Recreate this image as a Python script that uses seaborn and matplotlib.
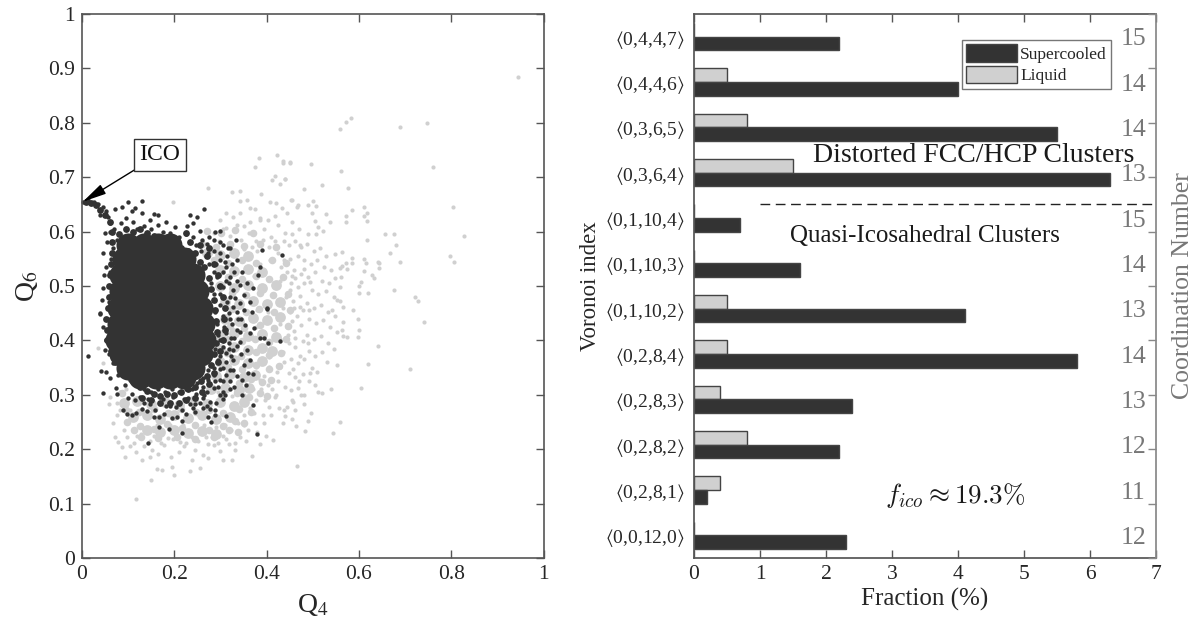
import numpy as np
import pandas as pd
import matplotlib
matplotlib.use("Agg")
import matplotlib.pyplot as plt
import seaborn as sns

# valeurs
voronoi = ["0,4,4,7", "0,4,4,6", "0,3,6,5", "0,3,6,4", "0,1,10,4", "0,1,10,3",
           "0,1,10,2", "0,2,8,4", "0,2,8,3", "0,2,8,2", "0,2,8,1", "0,0,12,0"]
liquid = [0, 0.5, 0.8, 1.5, 0, 0, 0.5, 0.5, 0.4, 0.8, 0.4, 0]
supercooled = [2.2, 4.0, 5.5, 6.3, 0.7, 1.6, 4.1, 5.8, 2.4, 2.2, 0.2, 2.3]
coordination = [15, 14, 14, 13, 15, 14, 13, 14, 13, 12, 11, 12]

# zone pleine du nuage sombre
dark_core = [
    (.10, .575), (.135, .575), (.165, .575), (.19, .575),
    (.09, .55), (.125, .55), (.16, .55), (.19, .55), (.22, .55),
    (.085, .52), (.12, .52), (.155, .52), (.19, .52), (.215, .52), (.24, .52),
    (.085, .49), (.12, .49), (.155, .49), (.19, .49), (.225, .49), (.25, .49),
    (.08, .46), (.115, .46), (.15, .46), (.19, .46), (.225, .46), (.258, .46),
    (.08, .43), (.115, .43), (.15, .43), (.19, .43), (.225, .43), (.263, .43),
    (.076, .40), (.11, .40), (.15, .40), (.19, .40), (.23, .40), (.265, .40),
    (.085, .375), (.12, .375), (.155, .375), (.19, .375), (.225, .375), (.258, .375),
    (.10, .35), (.135, .35), (.17, .35), (.205, .35), (.24, .35),
    (.125, .332), (.16, .332), (.19, .332), (.22, .332),
    (.155, .46), (.155, .43), (.16, .49), (.155, .40),
]

# bord du nuage sombre, encore presque plein
dark_rim = [
    (.065, .60), (.08, .595), (.095, .605), (.11, .60), (.125, .605), (.14, .598), (.155, .592), (.17, .59), (.185, .585),
    (.20, .575), (.215, .57), (.23, .565), (.245, .56), (.255, .545), (.265, .535), (.275, .515), (.28, .495), (.285, .475),
    (.288, .455), (.29, .435), (.292, .415), (.29, .395), (.287, .375), (.28, .355), (.27, .335), (.258, .325), (.245, .315),
    (.23, .31), (.215, .305), (.20, .30), (.185, .302), (.17, .298), (.155, .302), (.14, .307), (.125, .315), (.11, .325),
    (.098, .335), (.085, .345), (.072, .36), (.062, .38), (.055, .40), (.055, .42), (.053, .44), (.056, .46), (.058, .48),
    (.058, .50), (.06, .52), (.062, .54), (.064, .56), (.066, .58), (.008, .655), (.02, .652), (.03, .648), (.04, .64),
    (.05, .63), (.06, .618), (.27, .555), (.285, .54), (.295, .52), (.30, .50), (.305, .48), (.31, .46), (.308, .44),
    (.31, .42), (.305, .40), (.30, .38), (.295, .36), (.285, .34), (.275, .32), (.26, .305), (.245, .295), (.225, .29),
    (.21, .285), (.19, .285), (.17, .285), (.15, .29), (.13, .295), (.235, .58), (.255, .575), (.275, .57), (.225, .598),
]

# zone dense du nuage clair
light_core = [
    (.14, .235), (.17, .232), (.20, .236), (.23, .229), (.26, .233), (.29, .228),
    (.11, .26), (.14, .262), (.17, .256), (.20, .263), (.23, .258), (.26, .262), (.29, .255), (.32, .26),
    (.09, .285), (.12, .288), (.15, .283), (.18, .287), (.21, .282), (.24, .288), (.27, .284), (.30, .286), (.33, .28), (.35, .287),
    (.28, .31), (.31, .313), (.34, .308), (.362, .312),
    (.29, .335), (.32, .338), (.35, .332), (.375, .337),
    (.30, .36), (.33, .364), (.36, .358), (.39, .362),
    (.30, .385), (.33, .388), (.36, .382), (.39, .386), (.412, .38),
    (.30, .41), (.33, .413), (.36, .408), (.39, .412), (.42, .406),
    (.31, .44), (.34, .436), (.37, .442), (.40, .438), (.43, .443),
    (.31, .47), (.34, .467), (.37, .472), (.40, .466), (.43, .47),
    (.30, .50), (.33, .497), (.36, .502), (.39, .496), (.42, .501),
    (.30, .53), (.33, .527), (.36, .531), (.39, .525),
    (.27, .56), (.30, .557), (.33, .561), (.36, .555),
]

light_mid = [
    (.125, .242), (.156, .237), (.185, .246), (.216, .239), (.244, .244), (.276, .236), (.305, .243), (.331, .252), (.352, .248),
    (.096, .272), (.124, .268), (.157, .274), (.186, .267), (.214, .273), (.246, .269), (.276, .272), (.306, .267), (.34, .273), (.366, .268),
    (.086, .303), (.301, .298), (.336, .304), (.361, .296), (.385, .303), (.401, .298),
    (.311, .327), (.34, .322), (.366, .329), (.391, .323), (.41, .328),
    (.316, .352), (.346, .348), (.376, .354), (.406, .347), (.426, .353),
    (.314, .377), (.345, .372), (.376, .378), (.405, .373), (.431, .376),
    (.316, .402), (.346, .398), (.375, .403), (.406, .397), (.441, .402),
    (.321, .427), (.351, .423), (.386, .428), (.416, .422), (.446, .427),
    (.326, .457), (.356, .452), (.384, .458), (.416, .453), (.451, .456),
    (.324, .487), (.356, .483), (.386, .488), (.414, .483), (.446, .486),
    (.316, .517), (.346, .512), (.376, .518), (.406, .513), (.436, .516),
    (.286, .547), (.316, .543), (.346, .548), (.376, .542), (.411, .547), (.441, .543),
    (.261, .577), (.291, .572), (.321, .578), (.351, .573), (.386, .577), (.421, .572),
    (.271, .602), (.301, .597), (.331, .603), (.371, .598),
    (.112, .236), (.098, .25), (.318, .235), (.338, .232), (.128, .222), (.165, .22), (.205, .222), (.245, .218), (.285, .222),
]

light_points = [
    (.945, .884), (.583, .808), (.571, .801), (.559, .789), (.688, .792), (.748, .800), (.496, .724), (.760, .719),
    (.561, .712), (.451, .728), (.436, .727), (.519, .686), (.480, .679), (.577, .681), (.440, .696), (.804, .646),
    (.828, .591), (.797, .556), (.807, .544), (.611, .645), (.584, .640), (.617, .634), (.573, .628), (.611, .629),
    (.617, .620), (.571, .618), (.537, .618), (.528, .632), (.454, .658), (.501, .656), (.490, .649), (.508, .647),
    (.467, .649), (.499, .635), (.505, .620), (.512, .608), (.523, .601), (.490, .595), (.507, .595), (.656, .596),
    (.677, .596), (.618, .585), (.680, .575), (.667, .560), (.688, .545), (.564, .563), (.548, .559), (.586, .551),
    (.586, .542), (.573, .543), (.612, .549), (.615, .542), (.642, .545), (.644, .542), (.643, .534), (.610, .527),
    (.628, .520), (.633, .515), (.604, .508), (.601, .500), (.601, .488), (.619, .487), (.676, .492), (.722, .480),
    (.727, .472), (.740, .434), (.587, .455), (.597, .439), (.601, .420), (.597, .406), (.642, .389), (.620, .357),
    (.711, .347), (.604, .313), (.560, .250), (.543, .229), (.465, .169),
    (.563, .536), (.559, .534), (.575, .531), (.561, .517), (.560, .499), (.552, .474), (.558, .472), (.566, .461),
    (.541, .456), (.565, .433), (.563, .419), (.565, .408), (.575, .407), (.552, .354), (.540, .310), (.521, .304),
    (.511, .306), (.482, .283), (.496, .266), (.489, .252), (.484, .234), (.463, .243), (.456, .255), (.458, .287),
    (.461, .272), (.438, .272), (.440, .261), (.435, .249),
    (.384, .736), (.423, .741), (.375, .719), (.435, .730), (.451, .727), (.418, .703), (.440, .697), (.411, .695),
    (.429, .687), (.272, .681), (.324, .673), (.342, .675), (.388, .669), (.198, .655), (.357, .658), (.342, .656),
    (.407, .654), (.420, .653), (.453, .658), (.313, .634), (.299, .621), (.364, .643), (.375, .641), (.386, .621),
    (.433, .643), (.445, .634), (.465, .646), (.328, .627), (.342, .634),
    (.117, .109), (.149, .143), (.234, .160), (.199, .152), (.162, .163), (.173, .161), (.194, .168), (.368, .188),
    (.413, .216), (.093, .186), (.072, .223), (.079, .214), (.086, .204), (.129, .180), (.147, .186), (.256, .165),
    (.238, .180), (.274, .183), (.306, .180), (.324, .181), (.331, .198), (.068, .249), (.059, .284), (.061, .296),
    (.035, .386), (.046, .358), (.105, .205), (.118, .195), (.135, .205), (.152, .198), (.165, .192), (.178, .208),
    (.192, .186), (.21, .195), (.222, .205), (.245, .198), (.262, .19), (.285, .208), (.298, .196), (.318, .21),
    (.342, .222), (.36, .235), (.375, .248), (.392, .262), (.405, .278), (.418, .296), (.398, .225), (.09, .235),
    (.098, .222), (.075, .262), (.082, .272),
    (.345, .585), (.362, .598), (.378, .582), (.395, .605), (.41, .59), (.425, .612), (.44, .598), (.455, .618),
    (.47, .605), (.352, .61), (.32, .592), (.305, .605), (.285, .598), (.335, .612), (.385, .625), (.418, .628),
    (.448, .575), (.462, .582), (.475, .572), (.488, .578), (.502, .565), (.515, .57), (.528, .555), (.45, .55),
    (.468, .555), (.482, .548), (.497, .54), (.51, .548), (.525, .535), (.54, .53), (.445, .525), (.46, .53),
    (.475, .522), (.49, .516), (.505, .525), (.52, .51), (.535, .505), (.548, .515), (.452, .505), (.468, .498),
    (.482, .505), (.498, .492), (.512, .485), (.528, .49), (.545, .48), (.442, .48), (.458, .472), (.472, .482),
    (.487, .468), (.502, .46), (.518, .465), (.532, .452), (.548, .445), (.45, .452), (.465, .445), (.478, .455),
    (.492, .44), (.508, .432), (.522, .438), (.538, .425), (.552, .415), (.445, .425), (.46, .418), (.475, .428),
    (.488, .41), (.502, .402), (.518, .408), (.532, .395), (.545, .385), (.448, .395), (.462, .388), (.478, .398),
    (.492, .38), (.505, .372), (.52, .378), (.53, .36), (.452, .365), (.468, .358), (.482, .366), (.498, .35),
    (.51, .342), (.448, .34), (.462, .332), (.478, .338), (.492, .325), (.505, .318), (.44, .315), (.452, .308),
    (.468, .312), (.482, .30), (.425, .325), (.43, .352), (.435, .378), (.428, .402), (.42, .30), (.41, .325),
    (.395, .335), (.405, .352), (.282, .222), (.305, .225), (.322, .235), (.338, .248), (.352, .262), (.365, .275),
    (.378, .29), (.388, .31), (.12, .225), (.148, .215), (.172, .212), (.198, .218), (.225, .212), (.252, .215),
    (.272, .21), (.345, .55), (.38, .565), (.405, .572), (.425, .56), (.408, .548), (.432, .535),
    (.113, .212), (.128, .228), (.156, .224), (.186, .221), (.212, .214), (.238, .222), (.268, .222), (.295, .212),
    (.312, .218), (.332, .212), (.352, .245), (.372, .266), (.396, .29), (.411, .31), (.422, .342), (.438, .36),
    (.447, .41), (.456, .436), (.459, .46), (.451, .492), (.456, .518), (.438, .548), (.418, .582), (.392, .585),
    (.368, .572), (.352, .568), (.322, .575), (.296, .582), (.312, .607), (.365, .618), (.402, .622), (.437, .582),
    (.43, .51), (.436, .46), (.429, .43), (.415, .425), (.402, .452), (.415, .485), (.405, .512), (.385, .54),
    (.372, .518), (.345, .515), (.352, .485), (.38, .455), (.352, .455), (.378, .425), (.402, .395), (.405, .37),
    (.378, .352), (.345, .345), (.318, .352), (.345, .372), (.318, .325), (.295, .305), (.325, .298), (.352, .3),
    (.37, .31), (.402, .318), (.385, .328), (.29, .24), (.31, .245), (.265, .245), (.242, .245), (.218, .244),
    (.19, .245), (.162, .245), (.128, .245), (.1, .25), (.105, .272), (.13, .274), (.158, .272), (.075, .285),
    (.083, .305), (.095, .31), (.472, .575), (.455, .595), (.482, .532), (.462, .515), (.495, .508), (.472, .462),
    (.492, .455), (.462, .405), (.49, .395), (.472, .372), (.458, .348), (.47, .325), (.456, .29), (.445, .278),
    (.426, .275), (.41, .262), (.395, .248), (.38, .232), (.356, .215), (.385, .21), (.475, .3), (.495, .34),
]

dark_points = [
    (.003, .655), (.014, .658), (.025, .655), (.035, .651), (.046, .646), (.053, .638), (.039, .630), (.057, .627),
    (.072, .641), (.086, .646), (.099, .654), (.129, .656), (.115, .643), (.108, .637), (.129, .634), (.155, .633),
    (.165, .630), (.147, .621), (.183, .618), (.202, .609), (.234, .630), (.250, .627), (.264, .641), (.227, .611),
    (.240, .615), (.256, .602), (.299, .601), (.285, .584), (.299, .581), (.270, .578), (.248, .575), (.317, .569),
    (.334, .584), (.389, .566), (.433, .557), (.335, .548), (.346, .526), (.386, .535), (.382, .520), (.357, .505),
    (.342, .502), (.370, .496), (.328, .493), (.350, .483), (.364, .471), (.350, .456), (.400, .459), (.328, .462),
    (.299, .548), (.313, .535), (.292, .517), (.321, .517), (.306, .499), (.321, .480), (.046, .560), (.053, .535),
    (.046, .496), (.043, .474), (.039, .450), (.061, .615), (.050, .597),
    (.012, .372), (.041, .344), (.051, .342), (.046, .304), (.061, .330), (.074, .313), (.075, .302), (.088, .272),
    (.098, .264), (.109, .263), (.118, .266), (.129, .274), (.142, .212), (.167, .241), (.189, .237), (.216, .230),
    (.166, .260), (.194, .258), (.216, .252), (.279, .250), (.274, .260), (.288, .263), (.313, .261), (.277, .274),
    (.288, .272), (.245, .269), (.216, .272), (.183, .279), (.204, .278), (.158, .272), (.147, .284), (.234, .284),
    (.245, .283), (.277, .287), (.306, .292), (.346, .299), (.371, .282), (.380, .228), (.285, .312), (.299, .299),
    (.321, .310), (.335, .334), (.346, .327), (.355, .318), (.360, .340), (.370, .339), (.364, .364), (.350, .355),
    (.328, .345), (.313, .336), (.299, .327), (.328, .364), (.313, .361), (.299, .348), (.357, .382), (.342, .397),
    (.328, .382), (.313, .376), (.295, .364), (.386, .405), (.394, .405), (.404, .396), (.430, .399), (.373, .423),
    (.353, .428), (.364, .413), (.400, .458), (.368, .453), (.335, .453), (.321, .440), (.335, .419), (.313, .413),
    (.299, .400), (.306, .388), (.050, .382), (.053, .400), (.046, .425), (.039, .448), (.068, .358), (.079, .336),
    (.093, .318), (.108, .302), (.126, .296), (.144, .293), (.176, .293), (.198, .296), (.220, .293), (.248, .302),
    (.263, .315), (.274, .327), (.285, .336),
    (.06, .60), (.07, .605), (.085, .615), (.095, .625), (.11, .618), (.12, .605), (.135, .61), (.15, .605), (.165, .612),
    (.175, .60), (.19, .598), (.21, .59), (.225, .595), (.24, .59), (.26, .585), (.275, .59), (.258, .565), (.272, .56),
    (.285, .565), (.30, .56), (.29, .54), (.275, .54), (.305, .525), (.285, .525), (.296, .50), (.312, .51), (.28, .505),
    (.30, .485), (.285, .485), (.315, .47), (.30, .465), (.288, .452), (.305, .445), (.318, .45), (.292, .43), (.308, .425),
    (.295, .41), (.318, .395), (.33, .405), (.342, .415), (.288, .385), (.30, .372), (.322, .372), (.285, .35), (.272, .345),
    (.288, .325), (.262, .33), (.25, .322), (.238, .31), (.225, .31), (.21, .305), (.195, .31), (.18, .305), (.165, .31),
    (.15, .305), (.135, .31), (.118, .318), (.105, .328), (.095, .34), (.08, .35), (.07, .37), (.058, .375), (.058, .41),
    (.056, .44), (.058, .47), (.058, .50), (.06, .525), (.062, .55), (.068, .57), (.075, .585), (.048, .52), (.055, .58),
    (.17, .285), (.19, .28), (.23, .295), (.262, .295), (.135, .285), (.115, .29), (.1, .295), (.262, .275), (.255, .285),
    (.315, .555), (.325, .54), (.33, .525), (.318, .505), (.335, .51), (.332, .478), (.343, .468), (.338, .44), (.325, .43),
    (.345, .44), (.322, .405), (.335, .39), (.318, .385), (.345, .375), (.305, .35), (.32, .345), (.305, .325), (.32, .325),
    (.33, .315), (.295, .315), (.305, .305), (.27, .305), (.24, .275), (.225, .265), (.178, .265), (.155, .26), (.14, .27),
    (.205, .26), (.27, .28), (.29, .285), (.31, .30), (.265, .3), (.31, .545), (.32, .57), (.305, .575), (.288, .60),
]

LIGHT = "#d0d0d0"
DARK = "#333333"
AXIS = "#555555"

sns.set_theme(style="ticks")
plt.rcParams["font.family"] = ["Liberation Serif", "DejaVu Serif"]
plt.rcParams["mathtext.fontset"] = "stix"
plt.rcParams["xtick.color"] = AXIS
plt.rcParams["ytick.color"] = AXIS
plt.rcParams["xtick.labelcolor"] = "#262626"
plt.rcParams["ytick.labelcolor"] = "#262626"
plt.rcParams["axes.edgecolor"] = AXIS

fig = plt.figure(figsize=(11.96, 6.30), dpi=100)

# nuage Q4 / Q6
ax1 = fig.add_axes([82 / 1196, 72 / 630, 461.5 / 1196, 544 / 630])
layers = [(light_core, LIGHT, 60), (light_mid, LIGHT, 30), (light_points, LIGHT, 9),
          (dark_core, DARK, 300), (dark_rim, DARK, 24), (dark_points, DARK, 10)]
for points, color, size in layers:
    xy = np.array(points)
    sns.scatterplot(x=xy[:, 0], y=xy[:, 1], color=color, s=size, linewidth=0, ax=ax1, clip_on=False)
ax1.set_xlim(0, 1)
ax1.set_ylim(0, 1)
ax1.set_xticks([0, 0.2, 0.4, 0.6, 0.8, 1], ["0", "0.2", "0.4", "0.6", "0.8", "1"])
ax1.set_yticks(np.arange(0, 1.01, 0.1), ["0", "0.1", "0.2", "0.3", "0.4", "0.5", "0.6", "0.7", "0.8", "0.9", "1"])
ax1.tick_params(direction="in", top=True, right=True, length=6, width=1, labelsize=15.5, pad=5)
ax1.set_xlabel("Q$_4$", fontsize=20, labelpad=6)
ax1.set_ylabel("Q$_6$", fontsize=20, labelpad=6)
for spine in ax1.spines.values():
    spine.set_linewidth(1.2)
    spine.set_zorder(5)
ax1.annotate("", xy=(0.002, 0.655), xytext=(0.113, 0.713),
             arrowprops=dict(arrowstyle="-|>,head_length=0.8,head_width=0.18", color="black", lw=1,
                             mutation_scale=18, shrinkA=0, shrinkB=0))
ax1.text(0.169, 0.741, "ICO", fontsize=17, color="#111111", ha="center", va="center",
         bbox=dict(boxstyle="square,pad=0.24", fc="white", ec="#333333", lw=1))

# barres des indices de Voronoi
ax2 = fig.add_axes([694 / 1196, 72 / 630, 462 / 1196, 544 / 630])
df = pd.DataFrame({
    "index": voronoi * 2,
    "fraction": liquid + supercooled,
    "state": ["Liquid"] * len(voronoi) + ["Supercooled"] * len(voronoi),
})
sns.barplot(data=df, y="index", x="fraction", hue="state", hue_order=["Liquid", "Supercooled"],
            palette={"Liquid": LIGHT, "Supercooled": DARK}, width=0.6, saturation=1,
            edgecolor="#444444", linewidth=1, orient="h", ax=ax2)
ax2.set_xlim(0, 7)
ax2.set_ylim(11.5, -0.5)
ax2.set_yticks(range(len(voronoi)), [rf"$\langle${v}$\rangle$" for v in voronoi])
ax2.set_xticks(range(8))
ax2.tick_params(axis="x", direction="in", top=True, length=6, width=1, labelsize=15.5, pad=5)
ax2.tick_params(axis="y", length=0, labelsize=14, pad=7)
ax2.set_xlabel("Fraction (%)", fontsize=18, labelpad=3, color="#262626")
ax2.set_ylabel("Voronoi index", fontsize=16.5, labelpad=3, color="#262626")
ax2.spines["right"].set_visible(False)

handles, labels = ax2.get_legend_handles_labels()
ax2.legend(handles[::-1], labels[::-1], loc="upper left", bbox_to_anchor=((962 - 694) / 462, 1 - 26 / 544),
           fontsize=12.5, frameon=True, fancybox=False, framealpha=1, edgecolor="#777777",
           handlelength=2.9, handleheight=1.2, handletextpad=0.2, labelspacing=0.15, borderpad=0.25, borderaxespad=0)

for i, cn in enumerate(coordination):
    ax2.text(6.47, i + 0.06, str(cn), fontsize=18.5, color="#777777", ha="left", va="center")

ax2.plot([1, 7], [3.7, 3.7], color="#222222", lw=1, ls=(0, (7, 4)))
ax2.text(1.8, 2.62, "Distorted FCC/HCP Clusters", fontsize=20, color="#1a1a1a", va="center")
ax2.text(1.45, 4.4, "Quasi-Icosahedral Clusters", fontsize=18, color="#1a1a1a", va="center")
ax2.text(2.9, 10.12, r"$f_{ico} \approx 19.3\%$", fontsize=19.5, color="#1a1a1a", va="center", math_fontfamily="cm")

# axe de droite : graduations sans valeurs
ax3 = ax2.twinx()
ax3.set_ylim(0, 1)
ax3.set_yticks(np.arange(0, 1.01, 0.1), [])
ax3.tick_params(axis="y", direction="in", length=6, width=1, color="#888888")
ax3.set_ylabel("Coordination Number", fontsize=18.5, color="#777777", labelpad=8)
ax3.spines["right"].set_color("#888888")
ax3.spines["top"].set_visible(False)
ax3.spines["left"].set_visible(False)
ax3.spines["bottom"].set_visible(False)

fig.savefig("out.png", dpi=100)
